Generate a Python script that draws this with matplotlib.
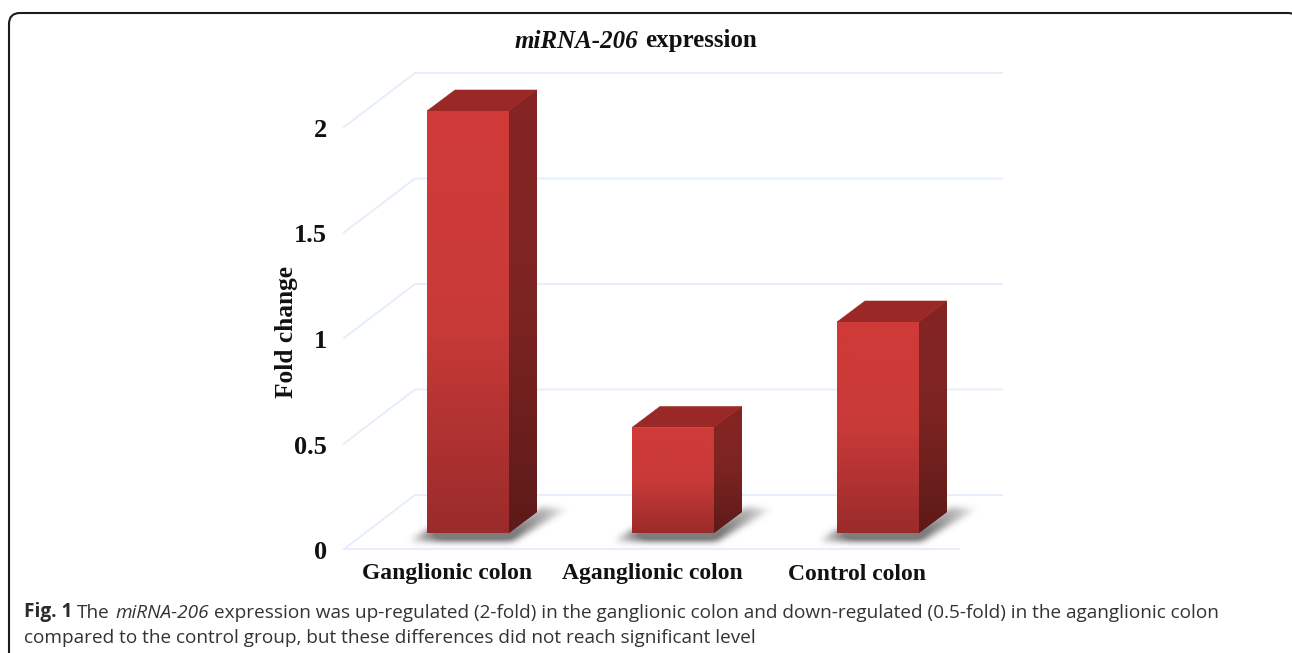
import numpy as np
import matplotlib
matplotlib.use("Agg")
import matplotlib.pyplot as plt
from matplotlib.patches import Polygon, FancyBboxPatch
from matplotlib.path import Path
from matplotlib.transforms import Affine2D
from matplotlib.colors import LinearSegmentedColormap

categories = ["Ganglionic colon", "Aganglionic colon", "Control colon"]
fold_change = [2.0, 0.5, 1.0]
y_ticks = [0, 0.5, 1, 1.5, 2]
y_tick_labels = ["0", "0.5", "1", "1.5", "2"]
y_label = "Fold change"
caption_line2 = "compared to the control group, but these differences did not reach significant level"

W, H = 1292, 653
PX_X = 205.0          # pixels per category step
PX_Y = 211.0          # pixels per fold-change unit
X0_PX, Y0_PX = 468.0, 533.0   # pixel of category 0 / value 0 at bar front

SERIF = "Liberation Serif"
SANS = "Open Sans"
INK = "#111111"

fig = plt.figure(figsize=(W / 100, H / 100), dpi=100, facecolor="white")
ax = fig.add_axes([0, 0, 1, 1])
ax.axis("off")
xlim = ((0 - X0_PX) / PX_X, (W - X0_PX) / PX_X)
ylim = ((Y0_PX - H) / PX_Y, Y0_PX / PX_Y)


def dx(p):
    return p / PX_X


def dy(p):
    return p / PX_Y


def px(x, y):
    """Pixel position (top-left origin) to data."""
    return (x - X0_PX) / PX_X, (Y0_PX - y) / PX_Y


# frame
frame = FancyBboxPatch((9, 13), 1290, 700, boxstyle="round,pad=0,rounding_size=11",
                       transform=Affine2D().scale(1, -1).translate(0, H),
                       fc="none", ec="#1c1c1c", lw=1.5, clip_on=True, zorder=1)
ax.add_patch(frame)

# walls and floor gridlines
GRID = "#E4EDFB"
floor_front = dy(549 - Y0_PX)
floor_back = dy(Y0_PX - 495)
grid_left_front = px(344, 0)[0]
grid_left_back = px(415, 0)[0]
grid_right_back = px(1002, 0)[0]
grid_right_front = px(959, 0)[0]
for v in y_ticks:
    ax.plot([grid_left_front, grid_left_back, grid_right_back],
            [v - floor_front, v + floor_back, v + floor_back],
            color=GRID, lw=1.3, zorder=2, solid_joinstyle="miter")
ax.plot([grid_left_front, grid_right_front], [-floor_front, -floor_front],
        color=GRID, lw=1.3, zorder=2)

# soft shadow, in pixels relative to the bar's front-right-bottom corner
bw = 82
DX, DY = 28, 21
xs = np.arange(-bw - 60, 100)
ys = np.arange(-60, 40)
gx, gy = np.meshgrid(xs, ys)
shape = Path([(-bw - 18, 8), (4, 8), (DX + 30, -24), (DX + 4, -26), (0, -4), (-bw, -4)])
mask = shape.contains_points(np.c_[gx.ravel(), gy.ravel()]).reshape(gx.shape).astype(float)
fade = np.clip((gx + bw + 26) / 40.0, 0, 1) * np.clip((DX + 38 - gx) / 70.0, 0, 1)
mask = mask * fade
kernel = np.exp(-0.5 * (np.arange(-9, 10) / 3.2) ** 2)
kernel /= kernel.sum()
for axis in (0, 1):
    mask = np.apply_along_axis(lambda r: np.convolve(r, kernel, mode="same"), axis, mask)
rgba = np.zeros(mask.shape + (4,))
rgba[..., :3] = 0.32
rgba[..., 3] = np.clip(mask * 0.95, 0, 0.75)

front_cm = LinearSegmentedColormap.from_list("f", ["#D03A38", "#C83A38", "#9B2B2B"])
side_cm = LinearSegmentedColormap.from_list("s", ["#862422", "#7C2422", "#5D1A18"])
grad = np.linspace(0, 1, 128).reshape(-1, 1)

width = bw / PX_X
x = np.arange(len(categories))
label_offset = dx(21)
bars = ax.bar(x, fold_change, width=width, color="#B03030", edgecolor="none", zorder=4)
for xi, val, bar in zip(x, fold_change, bars):
    l, r = xi - width / 2, xi + width / 2
    ax.imshow(rgba, extent=(r + dx(xs[0]), r + dx(xs[-1]), -dy(ys[-1]), -dy(ys[0])),
              origin="upper", aspect="auto", zorder=3, interpolation="bilinear")
    im = ax.imshow(grad, extent=(l, r, 0, val), origin="upper", aspect="auto",
                   cmap=front_cm, zorder=5, interpolation="bilinear")
    im.set_clip_path(bar)
    side = Polygon([(r, 0), (r + dx(DX), dy(DY)), (r + dx(DX), val + dy(DY)), (r, val)],
                   fc="#7A2220", ec="none", zorder=4)
    ax.add_patch(side)
    im2 = ax.imshow(grad, extent=(r, r + dx(DX), 0, val + dy(DY)), origin="upper",
                    aspect="auto", cmap=side_cm, zorder=5, interpolation="bilinear")
    im2.set_clip_path(side)
    ax.add_patch(Polygon([(l, val), (l + dx(DX), val + dy(DY)),
                          (r + dx(DX), val + dy(DY)), (r, val)],
                         fc="#9A2826", ec="#9A2826", lw=0.4, zorder=4.5))
    ax.text(xi - label_offset, -dy(579.5 - Y0_PX), categories[xi], ha="center", va="baseline",
            family=SERIF, weight="bold", fontsize=17, color=INK, zorder=7)

ax.set_xlim(*xlim)
ax.set_ylim(*ylim)

# value labels
for v, lab in zip(y_ticks, y_tick_labels):
    ax.text(px(327, 0)[0], v - dy(552.5 - Y0_PX), lab, ha="right", va="center",
            family=SERIF, weight="bold", fontsize=19, color=INK, zorder=7)

ax.text(*px(287, 331.5), y_label, rotation=90, ha="center", va="center",
        family=SERIF, weight="bold", fontsize=18.3, color=INK, zorder=7)

# title
ax.text(*px(638, 47.5), "miRNA-206", ha="right", va="baseline", family=SERIF, weight="bold",
        style="italic", fontsize=18, color=INK)
ax.text(*px(645, 47.5), "expression", ha="left", va="baseline", family=SERIF, weight="bold",
        fontsize=18, color=INK)

# caption
fig.canvas.draw()
rend = fig.canvas.get_renderer()
CAP = "#333333"
CAP_SIZE = 13.65


def run(xp, yp, s, **kw):
    t = ax.text(*px(xp, yp), s, ha="left", va="baseline", family=SANS, fontsize=CAP_SIZE,
                color=kw.pop("color", CAP), **kw)
    return t.get_window_extent(rend).x1


sp = 5.0
xc = run(24, 617.5, "Fig. 1", weight="bold", color="#2a2a2a") + sp
xc = run(xc, 617.5, "The") + sp
xc = run(xc, 617.5, "miRNA-206", style="italic") + sp
run(xc, 617.5, "expression was up-regulated (2-fold) in the ganglionic colon and down-regulated (0.5-fold) in the aganglionic colon")
run(24, 643, caption_line2)

fig.savefig("out.png", dpi=100)
